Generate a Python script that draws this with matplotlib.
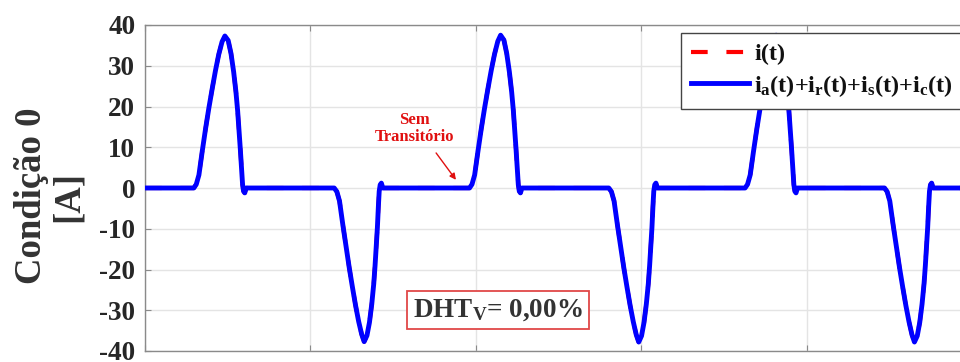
import matplotlib
matplotlib.use("Agg")
import matplotlib.pyplot as plt

# Time axis in milliseconds (60 Hz supply) and measured current in amperes
t_ms = [
    0.00,
    2.95, 3.10, 3.26, 3.46, 3.66, 3.86, 4.06, 4.26, 4.46, 4.66, 4.83,
    5.03, 5.20, 5.36, 5.50, 5.60, 5.68, 5.76, 5.84, 5.90, 5.96, 6.03, 6.12,
    11.44, 11.60, 11.76, 11.96, 12.16, 12.35, 12.54, 12.73, 12.92, 13.10, 13.25,
    13.42, 13.57, 13.71, 13.83, 13.91, 13.98, 14.05, 14.11, 14.16, 14.22, 14.29, 14.38,
    19.62, 19.77, 19.93, 20.13, 20.33, 20.53, 20.73, 20.93, 21.13, 21.33, 21.50,
    21.70, 21.87, 22.03, 22.17, 22.27, 22.35, 22.43, 22.51, 22.57, 22.63, 22.70, 22.79,
    28.04, 28.20, 28.36, 28.56, 28.76, 28.95, 29.14, 29.33, 29.52, 29.70, 29.85,
    30.02, 30.17, 30.31, 30.43, 30.51, 30.58, 30.65, 30.71, 30.76, 30.82, 30.89, 30.98,
    36.28, 36.43, 36.59, 36.79, 36.99, 37.19, 37.39, 37.59, 37.79, 37.99, 38.16,
    38.36, 38.53, 38.69, 38.83, 38.93, 39.01, 39.09, 39.17, 39.23, 39.29, 39.36, 39.45,
    44.71, 44.87, 45.03, 45.23, 45.43, 45.62, 45.81, 46.00, 46.19, 46.37, 46.52,
    46.69, 46.84, 46.98, 47.10, 47.18, 47.25, 47.32, 47.38, 47.43, 47.49, 47.56, 47.65,
    50.00,
]
i_total = [
    0.0,
    0.0, 0.9, 3.2, 9.0, 14.5, 19.6, 24.3, 28.8, 32.8, 35.9, 37.3,
    36.2, 33.0, 28.5, 23.5, 19.0, 14.5, 9.7, 4.5, 0.8, -0.8, -1.2, 0.0,
    0.0, -0.9, -3.2, -9.0, -14.5, -19.6, -24.3, -28.8, -32.8, -35.9, -37.7,
    -36.2, -33.0, -28.5, -23.5, -19.0, -14.5, -9.7, -4.5, -0.8, 0.8, 1.2, 0.0,
    0.0, 0.9, 3.2, 9.0, 14.5, 19.6, 24.3, 28.8, 32.8, 36.0, 37.5,
    36.3, 33.0, 28.5, 23.5, 19.0, 14.5, 9.7, 4.5, 0.8, -0.8, -1.2, 0.0,
    0.0, -0.9, -3.2, -9.0, -14.5, -19.6, -24.3, -28.8, -32.8, -36.0, -37.8,
    -36.3, -33.0, -28.5, -23.5, -19.0, -14.5, -9.7, -4.5, -0.8, 0.8, 1.2, 0.0,
    0.0, 0.9, 3.2, 9.0, 14.5, 19.6, 24.3, 28.8, 32.8, 36.0, 37.5,
    36.3, 33.0, 28.5, 23.5, 19.0, 14.5, 9.7, 4.5, 0.8, -0.8, -1.2, 0.0,
    0.0, -0.9, -3.2, -9.0, -14.5, -19.6, -24.3, -28.8, -32.8, -36.0, -37.8,
    -36.3, -33.0, -28.5, -23.5, -19.0, -14.5, -9.7, -4.5, -0.8, 0.8, 1.2, 0.0,
    0.0,
]
# Sum of the branch currents (identical to the total current: no distortion)
i_branches = list(i_total)

y_ticks = [-40, -30, -20, -10, 0, 10, 20, 30, 40]
x_ticks = [0, 10, 20, 30, 40, 50]

SERIF = "Liberation Serif"
plt.rcParams["font.family"] = SERIF
plt.rcParams["font.weight"] = "bold"
plt.rcParams["axes.unicode_minus"] = False
plt.rcParams["mathtext.fontset"] = "custom"
plt.rcParams["mathtext.rm"] = SERIF + ":bold"
plt.rcParams["mathtext.it"] = SERIF + ":bold"
plt.rcParams["mathtext.bf"] = SERIF + ":bold"

fig = plt.figure(figsize=(9.6, 3.62), dpi=100)
ax = fig.add_axes([145 / 960, 11 / 362, 827 / 960, 326 / 362])

ax.plot(t_ms, i_total, color="#ff0000", lw=3.0, dashes=(4, 4.5), label="i(t)", zorder=2)
ax.plot(t_ms, i_branches, color="#0000ff", lw=3.5, solid_joinstyle="round",
        label=r"$i_a(t)$+$i_r(t)$+$i_s(t)$+$i_c(t)$", zorder=3)

ax.set_xlim(0, 50)
ax.set_ylim(-40, 40)
ax.set_xticks(x_ticks)
ax.set_yticks(y_ticks)
ax.set_xticklabels([])
ax.grid(True, color="#e4e4e4", lw=1.0, zorder=0)
ax.set_axisbelow(True)
for sp in ax.spines.values():
    sp.set_color("#8a8a8a")
    sp.set_linewidth(1.0)
ax.tick_params(axis="x", direction="in", top=True, bottom=True, length=4, color="#8a8a8a")
ax.tick_params(axis="y", direction="in", left=True, right=True, length=4, color="#8a8a8a",
               labelsize=19.5, labelcolor="#262626", pad=7)
for lab in ax.get_yticklabels():
    lab.set_fontweight("bold")

ax.set_ylabel("Condição 0\n[A]", fontsize=26.5, fontweight="bold", color="#333333",
              linespacing=1.1, va="center", ha="center")
ax.yaxis.set_label_coords(-0.115, 0.475)

leg = ax.legend(loc="upper left", bbox_to_anchor=(0.648, 0.975), borderaxespad=0,
                fontsize=17.5, frameon=True, fancybox=False, framealpha=1,
                edgecolor="#444444", handlelength=2.4, handletextpad=0.2,
                labelspacing=0.3, borderpad=0.42)
leg.get_frame().set_linewidth(1.0)
for txt in leg.get_texts():
    txt.set_color("#111111")

ax.text(16.3, 14.6, "Sem\nTransitório", color="#e01010", fontsize=12, fontweight="bold",
        ha="center", va="center", multialignment="center", linespacing=1.15, zorder=4)
ax.annotate("", xy=(18.8, 2.0), xytext=(17.6, 8.6),
            arrowprops=dict(arrowstyle="-|>", color="#e01010", lw=1.0,
                            mutation_scale=9, shrinkA=0, shrinkB=0), zorder=4)

ax.text(21.33, -29.9, r"DHT$_{V}$= 0,00%", color="#333333", fontsize=19.5, fontweight="bold",
        ha="center", va="center", zorder=5,
        bbox=dict(boxstyle="square,pad=0.22", facecolor="white", edgecolor="#e04848", lw=1.3))

fig.savefig("out.png", dpi=100)
